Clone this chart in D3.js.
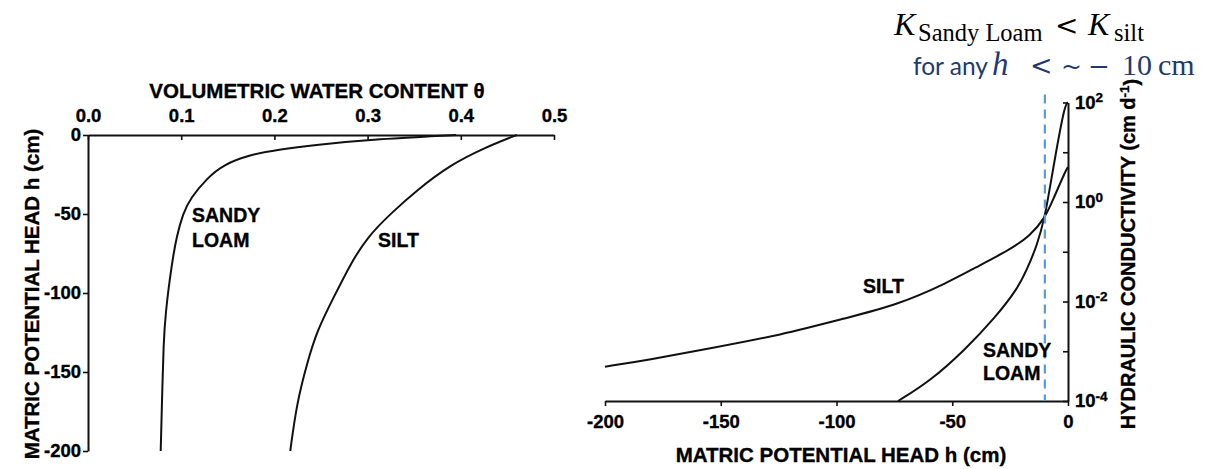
<!DOCTYPE html>
<html>
<head>
<meta charset="utf-8">
<script src="https://cdn.jsdelivr.net/npm/d3@7"></script>
<style>
  body { margin: 0; background: #fff; }
  svg { display: block; font-family: "Liberation Sans", Arial, sans-serif; font-weight: bold; }
  .lbl { stroke: #000; stroke-width: 0.35px; fill: #000; }
</style>
</head>
<body>
<div id="chart"></div>
<script>
// left panel: retention curves, head h (cm) against water content theta
const sandyHead  = [0, -3, -6.1, -9.3, -12.5, -18.8, -27.2, -39.9, -49.6, -64.4, -81.2, -112.8, -134, -155, -200];
const sandyTheta = [0.395, 0.300, 0.246, 0.203, 0.174, 0.145, 0.128, 0.110, 0.102, 0.095, 0.090, 0.083, 0.081, 0.080, 0.078];
const siltHead   = [0, -8.2, -18.8, -34.8, -49.6, -64.4, -81.2, -102.3, -123.4, -144.5, -169.8, -200];
const siltTheta  = [0.46, 0.425, 0.389, 0.353, 0.325, 0.300, 0.282, 0.264, 0.246, 0.235, 0.224, 0.217];

// right panel: hydraulic conductivity K (cm/d) against head h (cm)
const sandyKHead = [-73.4, -59.6, -44.5, -31.5, -21.6, -17.7, -13.4, -9.9, -7.8, -5.2, -1.3, 0];
const sandyK     = [1.0e-4, 2.5e-4, 1.07e-3, 4.7e-3, 0.0186, 0.0449, 0.131, 0.524, 2.0, 10, 93, 100];
const siltKHead  = [-200, -181.9, -153.4, -124.4, -95.5, -73.9, -52.3, -38, -25.1, -16.4, -9.9, -6.5, -0.9, 0];
const siltK      = [4.9e-4, 6.6e-4, 1.17e-3, 2.1e-3, 4.7e-3, 8.5e-3, 0.0234, 0.0537, 0.110, 0.209, 0.479, 1.10, 4.4, 5.0];

const thetaTicks = [0, 0.1, 0.2, 0.3, 0.4, 0.5];
const headTicksL = [0, -50, -100, -150, -200];
const headTicksR = [-200, -150, -100, -50, 0];
const kTicks = [1e-4, 1e-3, 1e-2, 1e-1, 1, 10, 100];
const kLabelled = [-4, -2, 0, 2];
const crossHead = -10;

const W = 1206, H = 469;
const svg = d3.select("#chart").append("svg").attr("width", W).attr("height", H);

function styleAxis(g) {
  g.attr("font-family", null).attr("font-size", 18.5);
  g.select(".domain").attr("stroke", "#111").attr("stroke-width", 2);
  g.selectAll(".tick line").attr("stroke", "#111").attr("stroke-width", 1.6);
  g.selectAll(".tick text").attr("class", "lbl");
}

// ---- left panel
const xL = d3.scaleLinear().domain([0, 0.5]).range([88, 554]);
const yL = d3.scaleLinear().domain([0, -200]).range([135, 451]);

svg.append("g").attr("transform", "translate(0,135)")
  .call(d3.axisTop(xL).tickValues(thetaTicks).tickFormat(d3.format(".1f"))
    .tickSizeInner(-5).tickSizeOuter(0).tickPadding(13))
  .call(styleAxis);
svg.append("g").attr("transform", "translate(88,0)")
  .call(d3.axisLeft(yL).tickValues(headTicksL).tickFormat(d => String(d))
    .tickSizeInner(5).tickSizeOuter(0).tickPadding(2))
  .call(styleAxis);

const lineL = d3.line().x(d => xL(d[0])).y(d => yL(d[1])).curve(d3.curveBasis);
[[sandyTheta, sandyHead], [siltTheta, siltHead]].forEach(([t, h]) => {
  svg.append("path").datum(t.map((v, i) => [v, h[i]]))
    .attr("d", lineL).attr("fill", "none").attr("stroke", "#111").attr("stroke-width", 2);
});

svg.append("text").attr("class", "lbl").attr("x", 317).attr("y", 98).attr("text-anchor", "middle")
  .attr("font-size", 20.5).text("VOLUMETRIC WATER CONTENT θ");
svg.append("text").attr("class", "lbl").attr("transform", "translate(39,294) rotate(-90)").attr("text-anchor", "middle")
  .attr("font-size", 20.5).text("MATRIC POTENTIAL HEAD h (cm)");

svg.append("text").attr("class", "lbl").attr("x", 192).attr("y", 222).attr("font-size", 19.5).text("SANDY");
svg.append("text").attr("class", "lbl").attr("x", 192).attr("y", 247).attr("font-size", 19.5).text("LOAM");
svg.append("text").attr("class", "lbl").attr("x", 378).attr("y", 247).attr("font-size", 19.5).text("SILT");

// ---- right panel
const xR = d3.scaleLinear().domain([-200, 0]).range([605, 1068]);
const yR = d3.scaleLog().domain([1e-4, 1e2]).range([401, 102.5]);

svg.append("g").attr("transform", "translate(0,401)")
  .call(d3.axisBottom(xR).tickValues(headTicksR).tickFormat(d => String(d))
    .tickSizeInner(5).tickSizeOuter(0).tickPadding(9))
  .call(styleAxis);
const gy = svg.append("g").attr("transform", "translate(1068,0)")
  .call(d3.axisRight(yR).tickValues(kTicks).tickFormat(() => "")
    .tickSizeInner(-5).tickSizeOuter(0).tickPadding(7))
  .call(styleAxis);
gy.selectAll(".tick text").each(function(d) {
  const e = Math.round(Math.log10(d));
  if (!kLabelled.includes(e)) return;
  const t = d3.select(this);
  t.append("tspan").text("10");
  t.append("tspan").attr("dy", "-0.5em").attr("font-size", 13.5).text(String(e));
});

const lineR = d3.line().x(d => xR(d[0])).y(d => yR(d[1])).curve(d3.curveBasis);
[[siltKHead, siltK], [sandyKHead, sandyK]].forEach(([h, k]) => {
  svg.append("path").datum(h.map((v, i) => [v, k[i]]))
    .attr("d", lineR).attr("fill", "none").attr("stroke", "#111").attr("stroke-width", 2);
});

svg.append("line")
  .attr("x1", xR(crossHead)).attr("x2", xR(crossHead))
  .attr("y1", yR(100) - 8).attr("y2", yR(1e-4))
  .attr("stroke", "#5b9bd5").attr("stroke-width", 2.2).attr("stroke-dasharray", "9,6");

svg.append("text").attr("class", "lbl").attr("x", 841).attr("y", 462).attr("text-anchor", "middle")
  .attr("font-size", 20.5).text("MATRIC POTENTIAL HEAD h (cm)");
const yt = svg.append("text").attr("class", "lbl").attr("transform", "translate(1135,254) rotate(-90)")
  .attr("text-anchor", "middle").attr("font-size", 20);
yt.append("tspan").text("HYDRAULIC CONDUCTIVITY (cm d");
yt.append("tspan").attr("dy", "-0.45em").attr("font-size", 13.5).text("-1");
yt.append("tspan").attr("dy", "0.45em").text(")");

svg.append("text").attr("class", "lbl").attr("x", 863).attr("y", 293).attr("font-size", 19.5).text("SILT");
svg.append("text").attr("class", "lbl").attr("x", 983).attr("y", 357).attr("font-size", 19.5).text("SANDY");
svg.append("text").attr("class", "lbl").attr("x", 983).attr("y", 380).attr("font-size", 19.5).text("LOAM");

// ---- annotation above the right panel
const serif = '"Liberation Serif", "DejaVu Serif", serif';
const ops = '"DejaVu Serif", serif';
const a1 = svg.append("text").attr("font-family", serif).attr("font-weight", "normal").attr("fill", "#000");
a1.append("tspan").attr("x", 894).attr("y", 35).attr("font-size", 32).attr("font-style", "italic").text("K");
a1.append("tspan").attr("x", 918).attr("y", 41).attr("font-size", 24.5).text("Sandy Loam");
a1.append("tspan").attr("x", 1055).attr("y", 35).attr("font-size", 28).attr("font-family", ops).text("<");
a1.append("tspan").attr("x", 1088).attr("y", 35).attr("font-size", 32).attr("font-style", "italic").text("K");
a1.append("tspan").attr("x", 1114).attr("y", 41).attr("font-size", 24.5).text("silt");

const a2 = svg.append("text").attr("font-weight", "normal").attr("fill", "#1f3a70").attr("font-size", 30);
a2.append("tspan").attr("x", 913).attr("y", 75).attr("font-family", "Lato, 'Open Sans', sans-serif").attr("font-size", 24.5).text("for any");
a2.append("tspan").attr("x", 992).attr("y", 75).attr("font-family", serif).attr("font-style", "italic").attr("font-size", 33).text("h");
a2.append("tspan").attr("x", 1030).attr("y", 75).attr("font-family", ops).attr("font-size", 27).text("<");
a2.append("tspan").attr("x", 1061).attr("y", 75).attr("font-family", ops).attr("font-size", 25).text("~");
a2.append("tspan").attr("x", 1088).attr("y", 75).attr("font-family", ops).attr("font-size", 26).text("−");
a2.append("tspan").attr("x", 1122).attr("y", 75).attr("font-family", serif).text("10");
a2.append("tspan").attr("x", 1158).attr("y", 75).attr("font-family", serif).text("cm");
</script>
</body>
</html>
